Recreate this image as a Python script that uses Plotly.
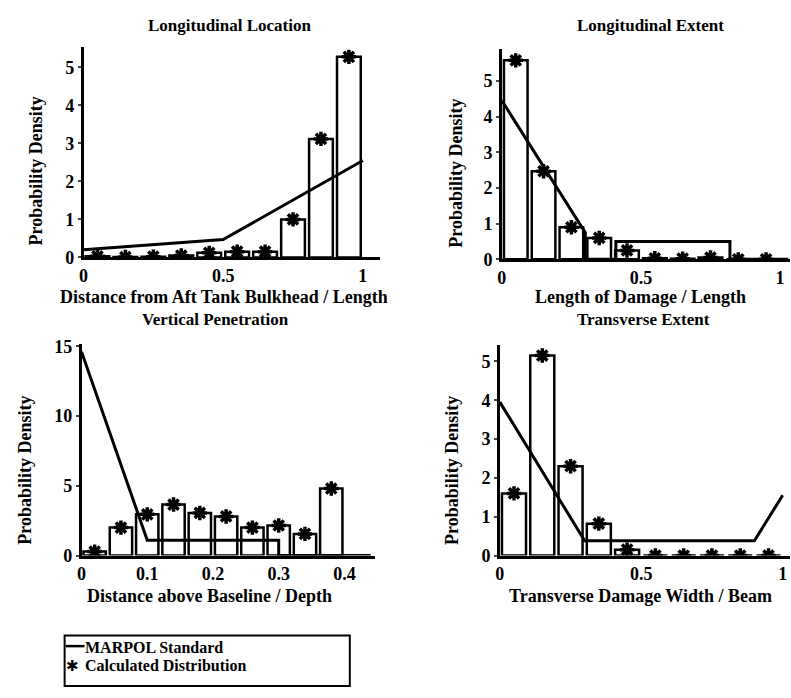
import plotly.graph_objects as go

W, H = 791, 698

# ---- data ----
bins_10 = [0.05, 0.15, 0.25, 0.35, 0.45, 0.55, 0.65, 0.75, 0.85, 0.95]
bins_04 = [0.02, 0.06, 0.10, 0.14, 0.18, 0.22, 0.26, 0.30, 0.34, 0.38]

loc_calc = [0.03, 0.01, 0.02, 0.05, 0.12, 0.15, 0.15, 1.0, 3.12, 5.28]
loc_marpol_x = [0, 0.5, 1.0]
loc_marpol_y = [0.2, 0.47, 2.55]

ext_calc = [5.58, 2.47, 0.9, 0.6, 0.25, 0.03, 0.02, 0.05, 0.0, 0.0]
ext_marpol_x = [0, 0.3, 0.3, 0.41, 0.41, 0.82, 0.82, 1.03]
ext_marpol_y = [4.45, 0.75, 0, 0, 0.5, 0.5, 0, 0]

vert_calc = [0.28, 2.0, 2.95, 3.65, 3.05, 2.8, 2.0, 2.15, 1.55, 4.8]
vert_marpol_x = [0, 0.1, 0.3, 0.3, 0.44]
vert_marpol_y = [14.6, 1.1, 1.1, 0, 0]

tra_calc = [1.6, 5.15, 2.3, 0.82, 0.15, 0.0, 0.0, 0.0, 0.0, 0.0]
tra_marpol_x = [0, 0.3, 0.9, 1.0]
tra_marpol_y = [3.95, 0.38, 0.38, 1.55]

legend_labels = ["MARPOL Standard", "Calculated Distribution"]

FONT = "Liberation Serif"

def px_x(p):
    return p / W

def px_y(p):
    return 1 - p / H

fig = go.Figure()

panels = [
    (bins_10, loc_calc, loc_marpol_x, loc_marpol_y, 0.085, 1, 79, 377, [0, 1.06], 256, 40, [0, 5.54],
     [0, 0.5, 1], ["0", "0.5", "1"], [0, 1, 2, 3, 4, 5]),
    (bins_10, ext_calc, ext_marpol_x, ext_marpol_y, 0.085, 2, 500, 790, [0, 1.036], 258, 42, [0, 5.9],
     [0, 0.5, 1], ["0", "0.5", "1"], [0, 1, 2, 3, 4, 5]),
    (bins_04, vert_calc, vert_marpol_x, vert_marpol_y, 0.034, 3, 77, 372, [0, 0.446], 562, 345, [0, 15.15],
     [0, 0.1, 0.2, 0.3, 0.4], ["0", "0.1", "0.2", "0.3", "0.4"], [0, 5, 10, 15]),
    (bins_10, tra_calc, tra_marpol_x, tra_marpol_y, 0.085, 4, 498, 790, [0, 1.026], 562, 346, [0, 5.42],
     [0, 0.5, 1], ["0", "0.5", "1"], [0, 1, 2, 3, 4, 5]),
]

for (bx, cv, mx, my, bw, k, x0, x1, xr, yz, yt, yr, xtv, xtt, ytv) in panels:
    xa = "x" if k == 1 else f"x{k}"
    ya = "y" if k == 1 else f"y{k}"
    fig.add_trace(go.Bar(x=bx, y=cv, width=bw, xaxis=xa, yaxis=ya,
                         marker=dict(color="white", line=dict(color="black", width=2.5)),
                         showlegend=False, hoverinfo="skip"))
    fig.add_trace(go.Scatter(x=mx, y=my, mode="lines", xaxis=xa, yaxis=ya,
                             line=dict(color="black", width=3),
                             name=legend_labels[0], showlegend=False))
    fig.add_trace(go.Scatter(x=bx, y=cv, mode="markers", xaxis=xa, yaxis=ya,
                             marker=dict(symbol="asterisk-open", size=12, color="black",
                                         line=dict(color="black", width=3.5)),
                             name=legend_labels[1], showlegend=False))
    sx = "" if k == 1 else str(k)
    fig.layout["xaxis" + sx] = dict(
        domain=[px_x(x0), px_x(x1)], range=xr, anchor=ya,
        showline=True, linecolor="black", linewidth=2.5, mirror=False,
        showgrid=False, zeroline=False, ticks="",
        tickvals=xtv, ticktext=xtt,
        tickfont=dict(family=FONT, size=18, color="black", weight="bold"),
        fixedrange=True,
    )
    fig.layout["yaxis" + sx] = dict(
        domain=[px_y(yz), px_y(yt)], range=yr, anchor=xa,
        showline=True, linecolor="black", linewidth=2.5,
        showgrid=False, zeroline=False, ticks="outside", ticklen=3, tickwidth=2,
        tickvals=ytv,
        tickfont=dict(family=FONT, size=18, color="black", weight="bold"),
        fixedrange=True,
    )

annots = []
def txt(s, x, y, size=15, angle=0, xanchor="center", family=FONT):
    annots.append(dict(text=s, x=px_x(x), y=px_y(y), xref="paper", yref="paper",
                       showarrow=False, xanchor=xanchor, yanchor="middle", textangle=angle,
                       borderpad=0,
                       font=dict(family=family, size=size, color="black", weight="bold")))

txt("Longitudinal Location", 226, 18, 17)
txt("Longitudinal Extent", 650, 18, 17)
txt("Vertical Penetration", 212, 320, 17)
txt("Transverse Extent", 643, 320, 17)

txt("Distance from Aft Tank Bulkhead / Length", 220, 297, 18)
txt("Length of Damage / Length", 640, 297, 18)
txt("Distance above Baseline / Depth", 206, 604, 18)
txt("Transverse Damage Width / Beam", 640, 604, 18)

txt("Probability Density", 31, 167, 18, -90)
txt("Probability Density", 453, 170, 18, -90)
txt("Probability Density", 20, 474, 18, -90)
txt("Probability Density", 450, 475, 18, -90)

# legend (drawn manually to match the compact boxed key)
txt(legend_labels[0], 80, 656, 16, xanchor="left")
txt(legend_labels[1], 80, 675, 16, xanchor="left")
txt("✱", 68, 675, 15, family="DejaVu Sans")

fig.update_layout(
    width=W, height=H,
    margin=dict(l=0, r=0, t=0, b=0),
    paper_bgcolor="white", plot_bgcolor="white",
    annotations=annots,
    barmode="overlay",
    showlegend=False,
    shapes=[
        dict(type="rect", xref="paper", yref="paper",
             x0=px_x(60), x1=px_x(347), y0=px_y(696), y1=px_y(644),
             line=dict(color="black", width=2)),
        dict(type="line", xref="paper", yref="paper",
             x0=px_x(61), x1=px_x(80), y0=px_y(655), y1=px_y(655),
             line=dict(color="black", width=2.5)),
    ],
)

fig.write_html("out.html",
               config={"displayModeBar": False},
               post_script="document.body.style.margin='0';document.body.style.padding='0';"
                           "document.body.style.overflow='hidden';")
